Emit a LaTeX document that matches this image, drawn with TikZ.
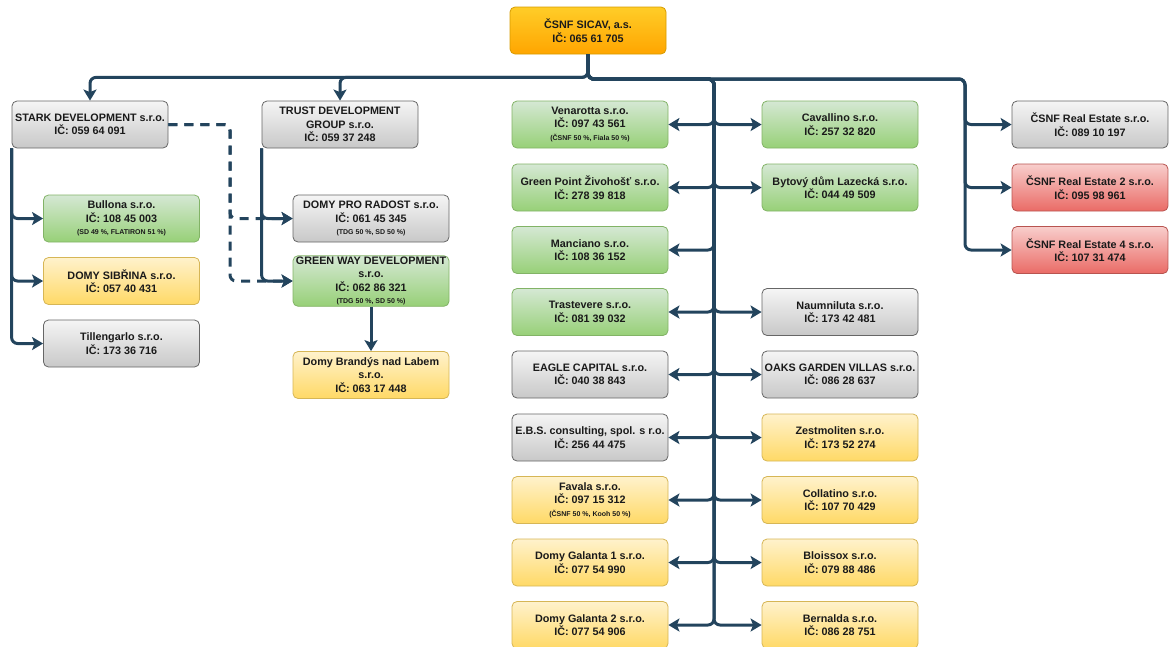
\documentclass[tikz,border=0pt]{standalone}
\usepackage{fontspec}
\setmainfont{Liberation Sans}
\usetikzlibrary{arrows.meta}

\definecolor{linec}{HTML}{23445D}
\definecolor{txt}{HTML}{1A1A1A}
\definecolor{greyT}{HTML}{F5F5F5}
\definecolor{greyB}{HTML}{C8C8C8}
\definecolor{greyD}{HTML}{666666}
\definecolor{greenT}{HTML}{D5E8D4}
\definecolor{greenB}{HTML}{97D077}
\definecolor{greenD}{HTML}{82B366}
\definecolor{yellowT}{HTML}{FFF2CC}
\definecolor{yellowB}{HTML}{FFD966}
\definecolor{yellowD}{HTML}{D6B656}
\definecolor{redT}{HTML}{F8CECC}
\definecolor{redB}{HTML}{EA6B66}
\definecolor{redD}{HTML}{B85450}
\definecolor{orangeT}{HTML}{FFCD28}
\definecolor{orangeB}{HTML}{FFA500}
\definecolor{orangeD}{HTML}{D79B00}

\newcommand{\share}[1]{\\[-1pt]{\fontsize{7}{8}\selectfont #1}}

\begin{document}
\begin{tikzpicture}[x=1pt,y=-1pt,
  box/.style={draw,rounded corners=5pt,minimum width=156pt,minimum height=47pt,
    inner sep=1pt,align=center,text=txt,line width=0.8pt,
    font=\bfseries\fontsize{10.8}{13.5}\selectfont},
  grey/.style={box,top color=greyT,bottom color=greyB,draw=greyD},
  green/.style={box,top color=greenT,bottom color=greenB,draw=greenD},
  yellow/.style={box,top color=yellowT,bottom color=yellowB,draw=yellowD},
  red/.style={box,top color=redT,bottom color=redB,draw=redD},
  orange/.style={box,top color=orangeT,bottom color=orangeB,draw=orangeD},
  link/.style={draw=linec,line width=3pt,rounded corners=6pt,
    -{Stealth[length=11pt,width=13pt,inset=2.5pt]}},
  shared/.style={link,dash pattern=on 9pt off 7pt}]
\useasboundingbox (0,0) rectangle (1171,646);

% holding company
\node[orange] (top) at (588,30.5) {ČSNF SICAV, a.s.\\IČ: 065 61 705};

% left branches
\node[grey] (stark) at (90,124.5) {STARK DEVELOPMENT s.r.o.\\IČ: 059 64 091};
\node[grey] (trust) at (340,124.5) {TRUST DEVELOPMENT\\GROUP s.r.o.\\IČ: 059 37 248};
\node[green] (bullona) at (121.5,218.5) {Bullona s.r.o.\\IČ: 108 45 003\share{(SD 49 \%, FLATIRON 51 \%)}};
\node[yellow] (sibrina) at (121.5,281) {DOMY SIBŘINA s.r.o.\\IČ: 057 40 431};
\node[grey] (tillen) at (121.5,343.5) {Tillengarlo s.r.o.\\IČ: 173 36 716};
\node[grey] (radost) at (371,218.5) {DOMY PRO RADOST s.r.o.\\IČ: 061 45 345\share{(TDG 50 \%, SD 50 \%)}};
\node[green] (greenway) at (371,281) {GREEN WAY DEVELOPMENT\\s.r.o.\\IČ: 062 86 321\share{(TDG 50 \%, SD 50 \%)}};
\node[yellow] (brandys) at (371,375) {Domy Brandýs nad Labem\\s.r.o.\\IČ: 063 17 448};

% middle column, left side
\node[green] (venarotta) at (590,124.5) {Venarotta s.r.o.\\IČ: 097 43 561\share{(ČSNF 50 \%, Fiala 50 \%)}};
\node[green] (greenpoint) at (590,187.5) {Green Point Živohošť s.r.o.\\IČ: 278 39 818};
\node[green] (manciano) at (590,250) {Manciano s.r.o.\\IČ: 108 36 152};
\node[green] (trastevere) at (590,312) {Trastevere s.r.o.\\IČ: 081 39 032};
\node[grey] (eagle) at (590,374.5) {EAGLE CAPITAL s.r.o.\\IČ: 040 38 843};
\node[grey] (ebs) at (590,437.5) {E.B.S. consulting, spol. s r.o.\\IČ: 256 44 475};
\node[yellow] (favala) at (590,500) {Favala s.r.o.\\IČ: 097 15 312\share{(ČSNF 50 \%, Kooh 50 \%)}};
\node[yellow] (galanta1) at (590,562.5) {Domy Galanta 1 s.r.o.\\IČ: 077 54 990};
\node[yellow] (galanta2) at (590,625) {Domy Galanta 2 s.r.o.\\IČ: 077 54 906};

% middle column, right side
\node[green] (cavallino) at (840,124.5) {Cavallino s.r.o.\\IČ: 257 32 820};
\node[green] (lazecka) at (840,187.5) {Bytový dům Lazecká s.r.o.\\IČ: 044 49 509};
\node[grey] (naumniluta) at (840,312) {Naumniluta s.r.o.\\IČ: 173 42 481};
\node[grey] (oaks) at (840,374.5) {OAKS GARDEN VILLAS s.r.o.\\IČ: 086 28 637};
\node[yellow] (zestmoliten) at (840,437.5) {Zestmoliten s.r.o.\\IČ: 173 52 274};
\node[yellow] (collatino) at (840,500) {Collatino s.r.o.\\IČ: 107 70 429};
\node[yellow] (bloissox) at (840,562.5) {Bloissox s.r.o.\\IČ: 079 88 486};
\node[yellow] (bernalda) at (840,625) {Bernalda s.r.o.\\IČ: 086 28 751};

% right column
\node[grey] (re1) at (1090,124.5) {ČSNF Real Estate s.r.o.\\IČ: 089 10 197};
\node[red] (re2) at (1090,187.5) {ČSNF Real Estate 2 s.r.o.\\IČ: 095 98 961};
\node[red] (re4) at (1090,250) {ČSNF Real Estate 4 s.r.o.\\IČ: 107 31 474};

\coordinate (hub) at (714,79);
\coordinate (rbus) at (965,79);

\draw[link] (top.south) -- ++(0,23) -| (stark.north);
\draw[link] (top.south) -- ++(0,23) -| (trust.north);
\draw[link] (stark.south west) |- (bullona.west);
\draw[link] (stark.south west) |- (sibrina.west);
\draw[link] (stark.south west) |- (tillen.west);
\draw[link] (trust.south west) |- (radost.west);
\draw[link] (trust.south west) |- (greenway.west);
\draw[shared] (stark.east) -- (230,124.5) |- (radost.west);
\draw[shared] (stark.east) -- (230,124.5) |- (greenway.west);
\draw[link] (greenway.south) -- (brandys.north);

\draw[link] (top.south) |- (hub) |- (venarotta.east);
\draw[link] (top.south) |- (hub) |- (greenpoint.east);
\draw[link] (top.south) |- (hub) |- (manciano.east);
\draw[link] (top.south) |- (hub) |- (trastevere.east);
\draw[link] (top.south) |- (hub) |- (eagle.east);
\draw[link] (top.south) |- (hub) |- (ebs.east);
\draw[link] (top.south) |- (hub) |- (favala.east);
\draw[link] (top.south) |- (hub) |- (galanta1.east);
\draw[link] (top.south) |- (hub) |- (galanta2.east);
\draw[link] (top.south) |- (hub) |- (cavallino.west);
\draw[link] (top.south) |- (hub) |- (lazecka.west);
\draw[link] (top.south) |- (hub) |- (naumniluta.west);
\draw[link] (top.south) |- (hub) |- (oaks.west);
\draw[link] (top.south) |- (hub) |- (zestmoliten.west);
\draw[link] (top.south) |- (hub) |- (collatino.west);
\draw[link] (top.south) |- (hub) |- (bloissox.west);
\draw[link] (top.south) |- (hub) |- (bernalda.west);

\draw[link] (top.south) |- (rbus) |- (re1.west);
\draw[link] (top.south) |- (rbus) |- (re2.west);
\draw[link] (top.south) |- (rbus) |- (re4.west);
\end{tikzpicture}
\end{document}
